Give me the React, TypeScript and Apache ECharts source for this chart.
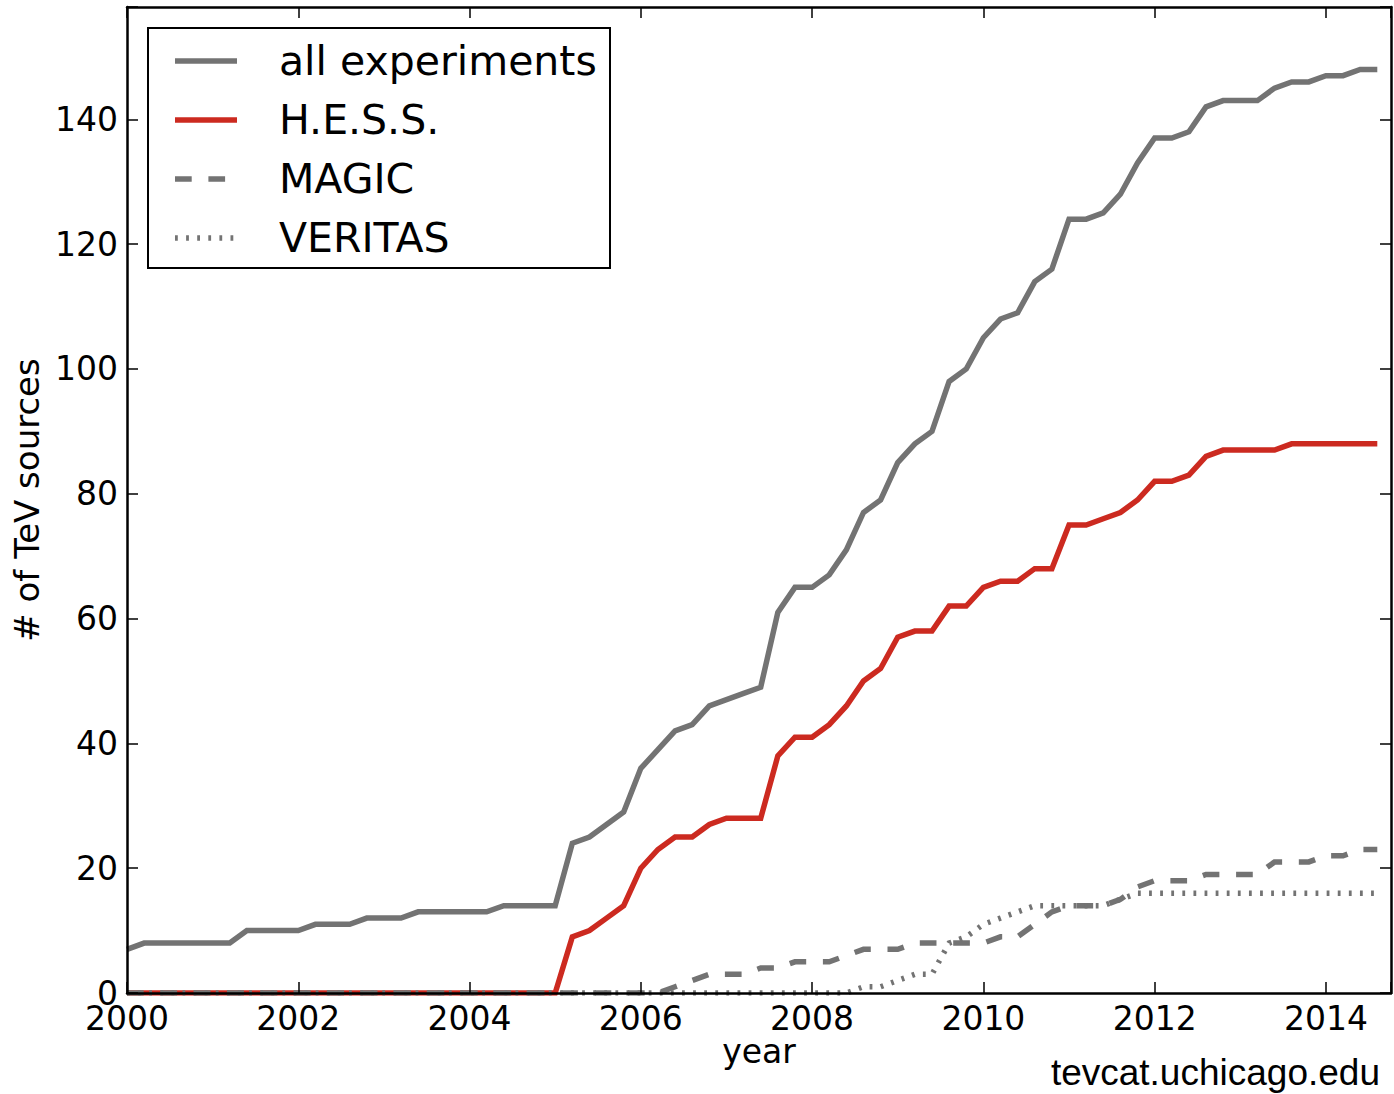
import React, { useEffect, useRef } from "react";
import * as echarts from "echarts";

// Cumulative number of detected TeV sources, sampled every 0.2 yr from 2000.0 to 2014.6
const START_YEAR = 2000;
const STEP_YEARS = 0.2;

const allExperiments = [
  7, 8, 8, 8, 8, 8, 8, 10, 10, 10, 10, 11, 11, 11, 12, 12, 12, 13, 13, 13, 13, 13, 14, 14, 14, 14,
  24, 25, 27, 29, 36, 39, 42, 43, 46, 47,
  48, 49, 61, 65, 65, 67, 71, 77, 79, 85,
  88, 90, 98, 100, 105, 108, 109, 114, 116, 124,
  124, 125, 128, 133, 137, 137, 138, 142, 143, 143,
  143, 145, 146, 146, 147, 147, 148, 148,
];

const hess = [
  0, 0, 0, 0, 0, 0, 0, 0, 0, 0, 0, 0, 0, 0, 0, 0, 0, 0, 0, 0, 0, 0, 0, 0, 0, 0,
  9, 10, 12, 14, 20, 23, 25, 25, 27, 28,
  28, 28, 38, 41, 41, 43, 46, 50, 52, 57,
  58, 58, 62, 62, 65, 66, 66, 68, 68, 75,
  75, 76, 77, 79, 82, 82, 83, 86, 87, 87,
  87, 87, 88, 88, 88, 88, 88, 88,
];

const magic = [
  0, 0, 0, 0, 0, 0, 0, 0, 0, 0, 0, 0, 0, 0, 0, 0, 0, 0, 0, 0, 0, 0, 0, 0, 0, 0,
  0, 0, 0, 0, 0, 0, 1, 2, 3, 3,
  3, 4, 4, 5, 5, 5, 6, 7, 7, 7,
  8, 8, 8, 8, 8, 9, 9, 11, 13, 14,
  14, 14, 15, 17, 18, 18, 18, 19, 19, 19,
  19, 21, 21, 21, 22, 22, 23, 23,
];

const veritas = [
  0, 0, 0, 0, 0, 0, 0, 0, 0, 0, 0, 0, 0, 0, 0, 0, 0, 0, 0, 0, 0, 0, 0, 0, 0, 0,
  0, 0, 0, 0, 0, 0, 0, 0, 0, 0,
  0, 0, 0, 0, 0, 0, 0, 1, 1, 2,
  3, 3, 8, 9, 11, 12, 13, 14, 14, 14,
  14, 14, 15, 16, 16, 16, 16, 16, 16, 16,
  16, 16, 16, 16, 16, 16, 16, 16,
];

const years = allExperiments.map((_, i) => +(START_YEAR + i * STEP_YEARS).toFixed(1));

const seriesNames = ["all experiments", "H.E.S.S.", "MAGIC", "VERITAS"];
const yTickStep = 20;
const xTickStep = 2;

const GRAY = "#737373";
const RED = "#cc2a20";
const FONT = "DejaVu Sans";
const LINE_W = 5.5;
const DASHED = [16.7, 16.7];
const DOTTED = [2.8, 8.3];

const pairs = (vals: number[]) => years.map((x, i) => [x, vals[i]]);

export default function App() {
  const ref = useRef<HTMLDivElement>(null);

  useEffect(() => {
    if (!ref.current) return;
    const chart = echarts.init(ref.current, undefined, { renderer: "svg" });

    const axisLine = { show: true, onZero: false, lineStyle: { color: "#000", width: 2.5 } };
    const tick = { show: true, inside: true, length: 11, lineStyle: { color: "#000", width: 1.5 } };

    const lineSeries = (name: string, vals: number[], color: string, type: any) => ({
      type: "line",
      name,
      data: pairs(vals),
      showSymbol: false,
      symbol: "none",
      xAxisIndex: 0,
      yAxisIndex: 0,
      lineStyle: { color, width: LINE_W, type, cap: "butt", join: "miter" },
      itemStyle: { color },
      z: 2,
    });

    const legendRows = [
      { label: seriesNames[0], color: GRAY, dash: null as number[] | null },
      { label: seriesNames[1], color: RED, dash: null },
      { label: seriesNames[2], color: GRAY, dash: DASHED },
      { label: seriesNames[3], color: GRAY, dash: DOTTED },
    ];
    const legendTop = 61;
    const legendRowGap = 59;
    const legendElements: any[] = [
      {
        type: "rect",
        shape: { x: 148, y: 28, width: 462, height: 240 },
        style: { fill: "#fff", stroke: "#000", lineWidth: 2 },
        z: 20,
      },
    ];
    legendRows.forEach((row, i) => {
      const y = legendTop + i * legendRowGap;
      legendElements.push({
        type: "line",
        shape: { x1: 175, y1: y, x2: 237, y2: y },
        style: {
          stroke: row.color,
          lineWidth: LINE_W,
          lineDash: row.dash || undefined,
          lineCap: "butt",
        },
        z: 21,
      });
      legendElements.push({
        type: "text",
        x: 279,
        y,
        style: {
          text: row.label,
          fontSize: 41,
          fontFamily: FONT,
          fill: "#000",
          align: "left",
          verticalAlign: "middle",
        },
        z: 21,
      });
    });

    chart.setOption({
      animation: false,
      backgroundColor: "#fff",
      grid: { left: 127, right: 1, top: 7, bottom: 101, containLabel: false },
      xAxis: [
        {
          type: "value",
          min: 2000,
          max: 2014.76,
          interval: xTickStep,
          position: "bottom",
          z: 5,
          axisLine,
          axisTick: tick,
          splitLine: { show: false },
          axisLabel: {
            show: true,
            margin: 9,
            color: "#000",
            fontSize: 33,
            fontFamily: FONT,
            formatter: (v: number) =>
              Math.abs(v - Math.round(v)) < 1e-6 && Math.round(v) % xTickStep === 0 ? String(Math.round(v)) : "",
          },
          name: "year",
          nameLocation: "middle",
          nameMoveOverlap: false,
          nameGap: 42,
          nameTextStyle: { color: "#000", fontSize: 33, fontFamily: FONT },
        },
        {
          type: "value",
          min: 2000,
          max: 2014.76,
          interval: xTickStep,
          position: "top",
          z: 5,
          axisLine,
          axisTick: tick,
          splitLine: { show: false },
          axisLabel: { show: false },
        },
      ],
      yAxis: [
        {
          type: "value",
          min: 0,
          max: 158,
          interval: yTickStep,
          position: "left",
          z: 5,
          axisLine,
          axisTick: tick,
          splitLine: { show: false },
          axisLabel: {
            show: true,
            margin: 9,
            color: "#000",
            fontSize: 33,
            fontFamily: FONT,
            formatter: (v: number) => (Math.round(v) % yTickStep === 0 && Math.abs(v - Math.round(v)) < 1e-6 ? String(Math.round(v)) : ""),
          },
          name: "# of TeV sources",
          nameLocation: "middle",
          nameRotate: 90,
          nameGap: 73,
          nameTextStyle: { color: "#000", fontSize: 34, fontFamily: FONT },
        },
        {
          type: "value",
          min: 0,
          max: 158,
          interval: yTickStep,
          position: "right",
          z: 5,
          axisLine,
          axisTick: tick,
          splitLine: { show: false },
          axisLabel: { show: false },
        },
      ],
      series: [
        lineSeries(seriesNames[0], allExperiments, GRAY, "solid"),
        lineSeries(seriesNames[1], hess, RED, "solid"),
        lineSeries(seriesNames[2], magic, GRAY, DASHED),
        lineSeries(seriesNames[3], veritas, GRAY, DOTTED),
      ],
      graphic: [
        ...legendElements,
        {
          type: "text",
          x: 1380,
          y: 1072,
          style: {
            text: "tevcat.uchicago.edu",
            fontSize: 37,
            fontFamily: "Liberation Sans",
            fill: "#000",
            align: "right",
            verticalAlign: "middle",
          },
          z: 21,
        },
      ],
    });

    return () => chart.dispose();
  }, []);

  return (
    <div
      ref={ref}
      style={{ position: "absolute", left: 0, top: 0, width: 1394, height: 1094, background: "#fff" }}
    />
  );
}
